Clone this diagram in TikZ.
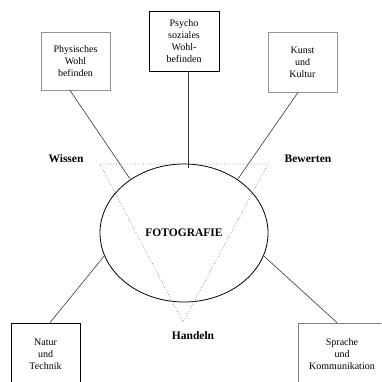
\documentclass[tikz,border=0pt]{standalone}
\usepackage{fontspec}
\setmainfont{Liberation Serif}
\usetikzlibrary{positioning, calc, shapes.geometric}
\definecolor{boxGray}{RGB}{150,150,150}
\definecolor{lineGray}{RGB}{55,55,55}

\begin{document}
\begin{tikzpicture}[x=1pt, y=-1pt,
          box/.style={draw, line width=0.8pt, minimum width=69pt, minimum height=60pt,
                      align=center, inner sep=2pt, font=\fontsize{10}{12}\selectfont},
          lbl/.style={font=\fontsize{11.5}{13}\selectfont\bfseries},
          link/.style={draw=lineGray, line width=0.6pt}
        ]
        \useasboundingbox (0,0) rectangle (381,382);
        \clip (0,0) rectangle (381,382);

        % centre
        \node[draw, ellipse, line width=0.8pt, minimum width=168pt, minimum height=138pt,
              inner sep=0pt, font=\fontsize{11.5}{13}\selectfont\bfseries]
              (foto) at (184,233) {FOTOGRAFIE};

        % dotted triangle
        \coordinate (wTop) at (100,164);
        \coordinate (bTop) at (268,164);
        \coordinate (hTip) at (183,322);
        \draw[dotted, gray, line width=0.7pt] (wTop) -- (bTop) -- (hTip) -- cycle;

        \node[lbl] (wissen)   at (66,159)  {Wissen};
        \node[lbl] (bewerten) at (308,159) {Bewerten};
        \node[lbl] (handeln)  at (193,336) {Handeln};

        % fields
        \node[box, draw=boxGray, minimum height=58pt] (phys)  at (75.5,61)  {Physisches\\Wohl\\befinden};
        \node[box, draw=black, minimum width=70pt]     (psy)   at (184,41)   {Psycho\\soziales\\Wohl-\\befinden};
        \node[box, draw=boxGray]                       (kunst) at (302.5,62) {Kunst\\und\\Kultur};
        \node[box, draw=black, minimum height=63pt]    (natur) at (45.5,354.5) {Natur\\und\\Technik};
        \node[box, draw=gray, minimum width=88pt, minimum height=63pt]
              (sprache) at (342,354.5) {Sprache\\und\\Kommunikation};

        \draw[link] ([xshift=-5.5pt]phys.south) -- (foto.135);
        \draw[link] ([xshift=4pt]psy.south)     -- ([xshift=4pt, yshift=-4pt]foto.north);
        \draw[link] ([xshift=-4.5pt]kunst.south) -- (foto.45);
        \draw[link] ([xshift=4.5pt]natur.north) -- (foto.196);
        \draw[link] ([xshift=-5pt]sprache.north) -- (foto.-16);
      \end{tikzpicture}
\end{document}
